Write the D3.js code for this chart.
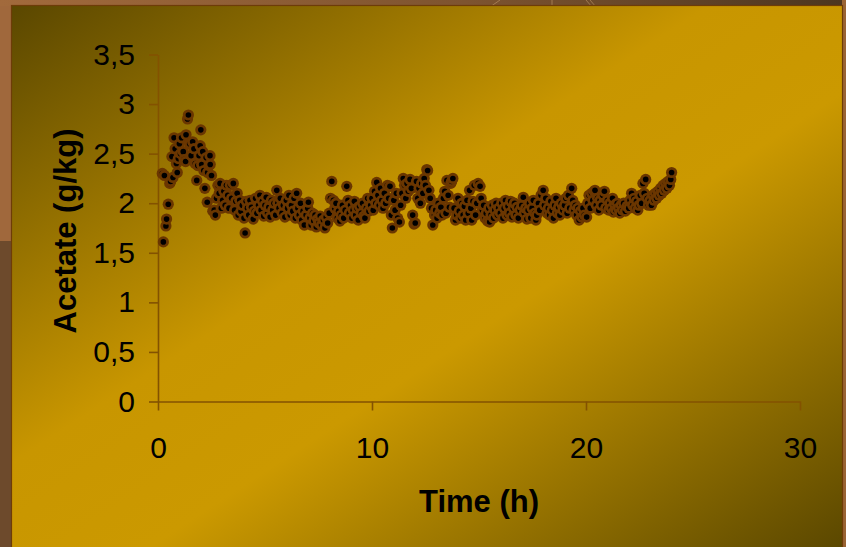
<!DOCTYPE html>
<html>
<head>
<meta charset="utf-8">
<script src="https://cdn.jsdelivr.net/npm/d3@7"></script>
<style>
  html, body { margin: 0; padding: 0; background: #6d4a2c; }
  svg { display: block; }
  text { font-family: "Liberation Sans", Arial, sans-serif; fill: #000; }
</style>
</head>
<body>
<svg id="chart" width="846" height="547"></svg>
<script>
// Sampling time (h)
const timeH = [
  0.20,0.25,0.30,0.37,0.40,0.48,0.55,0.59,0.65,0.70,0.75,0.80,0.86,0.90,0.95,
  1.00,1.05,1.10,1.18,1.22,1.29,1.31,1.38,1.42,1.48,1.55,1.62,1.68,1.74,1.81,1.86,1.92,1.97,
  2.00,2.04,2.09,2.14,2.19,2.25,2.30,2.32,2.38,2.43,2.44,2.50,2.56,2.63,2.68,2.74,2.80,2.86,2.90,2.96,
  3.02,3.08,3.14,3.20,3.26,3.32,3.38,3.44,3.52,3.58,3.64,3.70,3.75,3.82,3.88,3.94,
  4.02,4.07,4.12,4.18,4.24,4.30,4.37,4.45,4.50,4.56,4.62,4.70,4.76,4.82,4.88,4.94,
  5.00,5.06,5.12,5.18,5.24,5.30,5.36,5.42,5.50,5.55,5.60,5.66,5.72,5.80,5.86,5.93,
  6.00,6.06,6.12,6.18,6.24,6.30,6.36,6.42,6.48,6.54,6.60,6.66,6.72,6.78,6.84,6.92,
  7.00,7.03,7.10,7.16,7.22,7.28,7.34,7.40,7.46,7.52,7.58,7.64,7.73,7.80,7.86,7.93,
  8.00,8.06,8.12,8.20,8.26,8.32,8.38,8.44,8.50,8.56,8.62,8.68,8.75,8.82,8.88,8.94,
  9.00,9.06,9.12,9.18,9.24,9.30,9.36,9.42,9.50,9.56,9.62,9.67,9.74,9.80,9.86,9.94,
  10.00,10.06,10.12,10.18,10.22,10.28,10.34,10.40,10.46,10.52,10.58,10.64,10.72,10.78,10.84,10.90,10.95,
  11.02,11.08,11.14,11.20,11.28,11.34,11.40,11.46,11.52,11.58,11.64,11.70,11.78,11.84,11.90,11.96,
  12.02,12.08,12.14,12.20,12.26,12.32,12.38,12.44,12.50,12.56,12.60,12.66,12.72,12.78,12.84,12.92,12.98,
  13.04,13.10,13.16,13.22,13.28,13.34,13.40,13.46,13.50,13.56,13.62,13.68,13.72,13.78,13.84,13.90,13.96,
  14.02,14.08,14.14,14.20,14.26,14.32,14.38,14.44,14.50,14.56,14.62,14.66,14.72,14.78,14.84,14.90,14.96,
  15.05,15.10,15.16,15.22,15.28,15.34,15.40,15.46,15.50,15.56,15.62,15.68,15.74,15.80,15.86,15.92,
  16.00,16.06,16.12,16.18,16.24,16.30,16.36,16.42,16.48,16.54,16.60,16.66,16.72,16.78,16.84,16.92,
  17.00,17.07,17.12,17.18,17.24,17.30,17.36,17.42,17.48,17.54,17.60,17.66,17.70,17.78,17.84,17.90,
  18.00,18.06,18.12,18.18,18.24,18.30,18.36,18.42,18.48,18.54,18.60,18.66,18.72,18.78,18.84,18.92,
  19.00,19.06,19.12,19.18,19.24,19.33,19.38,19.44,19.50,19.56,19.62,19.68,19.74,19.80,19.86,19.92,
  20.03,20.08,20.14,20.20,20.26,20.32,20.38,20.42,20.48,20.54,20.60,20.66,20.72,20.78,20.86,20.92,
  21.00,21.06,21.12,21.18,21.24,21.28,21.34,21.40,21.46,21.52,21.58,21.64,21.70,21.76,21.84,21.92,
  22.00,22.06,22.13,22.18,22.24,22.30,22.36,22.42,22.48,22.54,22.60,22.66,22.72,22.79,22.86,22.92,
  23.00,23.06,23.12,23.18,23.24,23.30,23.36,23.42,23.48,23.54,23.60,23.66,23.72,23.78,23.84,23.90,23.96,24.00
];

// Acetate concentration (g/kg)
const acetate = [
  2.30,1.61,2.28,1.77,1.84,1.99,2.20,2.22,2.47,2.26,2.66,2.55,2.40,2.31,2.45,
  2.60,2.50,2.66,2.52,2.44,2.42,2.69,2.85,2.89,2.60,2.48,2.62,2.55,2.40,2.23,2.38,2.48,2.58,
  2.74,2.39,2.52,2.33,2.15,2.46,2.01,2.31,2.38,2.48,2.39,2.28,1.92,1.93,1.88,2.05,2.18,2.10,2.20,1.95,
  2.03,2.12,1.98,2.18,2.08,1.95,2.18,2.05,2.20,1.93,2.02,2.10,1.88,2.03,1.92,1.98,
  1.85,1.70,2.02,1.95,1.88,2.03,1.96,1.84,1.92,2.05,1.90,1.98,2.08,1.93,2.02,1.87,
  1.98,2.06,1.90,1.96,1.86,2.03,1.93,2.00,1.88,2.13,2.00,1.95,2.05,1.90,1.98,1.86,
  2.03,1.95,2.08,1.88,1.98,1.92,2.05,1.85,2.10,1.95,1.88,2.00,1.83,1.92,1.78,1.88,
  1.95,2.01,1.85,1.78,1.90,1.82,1.88,1.76,1.84,1.80,1.87,1.78,1.83,1.75,1.86,1.80,
  1.90,2.05,2.22,2.03,1.95,2.00,1.85,1.92,1.82,1.88,1.98,1.85,1.93,2.17,2.03,1.90,
  1.98,1.85,1.93,2.02,1.88,1.95,1.83,1.97,1.90,2.00,1.87,1.85,1.95,2.05,1.92,1.98,
  2.05,1.93,2.12,2.00,2.21,2.08,1.98,2.15,2.03,1.95,2.10,2.00,2.18,2.05,2.17,1.88,1.75,
  2.03,1.93,2.10,1.85,1.81,1.98,2.10,2.25,2.18,2.05,2.20,2.12,2.24,2.15,1.88,1.79,
  1.80,2.22,2.05,2.15,2.00,2.20,2.10,2.25,2.18,2.34,2.33,2.13,2.05,1.95,1.78,1.88,1.93,
  1.85,2.00,1.90,1.96,1.88,2.05,2.12,1.90,2.23,2.08,1.96,2.20,2.22,2.25,1.95,1.83,1.88,
  2.05,1.92,1.85,2.00,1.88,1.97,1.83,2.03,1.90,2.13,1.95,1.83,2.02,2.18,1.88,2.00,2.20,
  2.17,2.05,1.93,1.98,1.85,1.90,1.82,1.95,1.81,1.88,1.98,1.85,1.93,2.00,1.88,1.95,
  1.90,2.00,1.85,1.95,2.03,1.88,1.97,1.90,2.02,1.86,1.95,2.00,1.88,1.96,1.85,1.93,
  1.98,2.06,1.90,1.95,1.84,1.93,2.00,1.85,1.95,2.03,1.90,1.83,1.88,2.00,1.93,2.08,
  2.13,1.98,2.05,1.90,1.95,1.88,2.02,1.93,1.85,1.98,2.05,1.90,1.96,1.88,2.00,1.93,
  1.98,2.05,1.90,2.08,1.95,2.15,2.03,1.93,1.98,1.88,1.95,1.83,1.92,1.86,1.95,1.88,
  1.86,2.00,2.08,1.95,2.10,2.03,2.12,2.13,1.98,2.05,1.93,2.03,1.98,2.08,2.12,1.95,
  2.03,1.93,2.00,1.95,2.05,1.91,1.98,1.93,2.00,1.95,1.90,1.98,1.93,2.00,1.92,1.97,
  1.95,2.03,2.10,1.98,2.05,1.95,2.02,1.93,1.98,2.08,2.00,2.20,2.10,2.24,2.05,1.98,
  2.03,1.98,2.08,2.03,2.10,2.05,2.12,2.08,2.15,2.10,2.18,2.13,2.20,2.15,2.22,2.18,2.24,2.31
];

const xTicks = [0, 10, 20, 30];
const yTicks = [0, 0.5, 1, 1.5, 2, 2.5, 3, 3.5];
const xTitle = "Time (h)";
const yTitle = "Acetate (g/kg)";

const W = 846, H = 547;
const svg = d3.select("#chart");
const defs = svg.append("defs");

// slide frame behind the chart
const topGrad = defs.append("linearGradient").attr("id", "topStrip")
  .attr("x1", 0).attr("y1", 0).attr("x2", 1).attr("y2", 0);
topGrad.append("stop").attr("offset", 0).attr("stop-color", "#a26a3c");
topGrad.append("stop").attr("offset", 0.55).attr("stop-color", "#7e5430");
topGrad.append("stop").attr("offset", 1).attr("stop-color", "#4c3620");

svg.append("rect").attr("x", 0).attr("y", 0).attr("width", W).attr("height", H).attr("fill", "#6d4a2c");
svg.append("rect").attr("x", 0).attr("y", 0).attr("width", 12).attr("height", 241).attr("fill", "#a0683c");
svg.append("rect").attr("x", 0).attr("y", 0).attr("width", W).attr("height", 6).attr("fill", "url(#topStrip)");
svg.append("rect").attr("x", 842).attr("y", 0).attr("width", 4).attr("height", H).attr("fill", "#9a6434");

// faint line art peeking above the chart
const art = svg.append("g").attr("stroke", "#c9a070").attr("stroke-width", 1).attr("opacity", 0.55).attr("fill", "none");
art.append("line").attr("x1", 490).attr("y1", 7).attr("x2", 500).attr("y2", 0);
art.append("line").attr("x1", 552).attr("y1", 7).attr("x2", 552).attr("y2", 0);
art.append("line").attr("x1", 592).attr("y1", 7).attr("x2", 586).attr("y2", 0);
art.append("line").attr("x1", 596).attr("y1", 7).attr("x2", 590).attr("y2", 0);

// chart area gradient
const bg = defs.append("linearGradient").attr("id", "chartBg")
  .attr("x1", 0).attr("y1", 0).attr("x2", 1).attr("y2", 1);
bg.append("stop").attr("offset", 0).attr("stop-color", "#5a4700");
bg.append("stop").attr("offset", 0.42).attr("stop-color", "#c89600");
bg.append("stop").attr("offset", 0.58).attr("stop-color", "#cb9900");
bg.append("stop").attr("offset", 1).attr("stop-color", "#5a4700");

svg.append("rect").attr("x", 11.5).attr("y", 5.5).attr("width", 831).attr("height", 545)
  .attr("fill", "url(#chartBg)").attr("stroke", "#6e3c08").attr("stroke-width", 1.2);

// scales
const x = d3.scaleLinear().domain([0, 30]).range([158, 800]);
const y = d3.scaleLinear().domain([0, 3.5]).range([401.5, 54.5]);
const fmt = d => String(d).replace(".", ",");
const axisColor = "#835200";

const gx = svg.append("g").attr("transform", `translate(0,${y(0)})`)
  .call(d3.axisBottom(x).tickValues(xTicks).tickFormat(fmt).tickSize(9).tickSizeOuter(0).tickPadding(26));
const gy = svg.append("g").attr("transform", `translate(${x(0)},0)`)
  .call(d3.axisLeft(y).tickValues(yTicks).tickFormat(fmt).tickSize(9).tickSizeOuter(0).tickPadding(14));

[gx, gy].forEach(g => {
  g.select(".domain").attr("stroke", axisColor).attr("stroke-width", 1.6);
  g.selectAll(".tick line").attr("stroke", axisColor).attr("stroke-width", 1.6);
  g.selectAll(".tick text").attr("fill", "#000")
    .style("font-family", "'Liberation Sans', Arial, sans-serif").style("font-size", "30px");
});

// points: brown ring with a black core, drawn in sampling order
const pts = timeH.map((t, i) => ({ t, v: acetate[i] }));
const marks = svg.append("g").selectAll("g").data(pts).join("g")
  .attr("transform", d => `translate(${x(d.t)},${y(d.v)})`);
marks.append("circle").attr("r", 5.6).attr("fill", "#6a3600");
marks.append("circle").attr("r", 2.8).attr("fill", "#000");

// axis titles
svg.append("text").attr("x", x(15)).attr("y", 512).attr("text-anchor", "middle")
  .style("font-size", "31px").style("font-weight", "bold").text(xTitle);
svg.append("text").attr("transform", `translate(76,${(y(0) + y(3.5)) / 2 + 3}) rotate(-90)`)
  .attr("text-anchor", "middle").style("font-size", "31px").style("font-weight", "bold").text(yTitle);
</script>
</body>
</html>
